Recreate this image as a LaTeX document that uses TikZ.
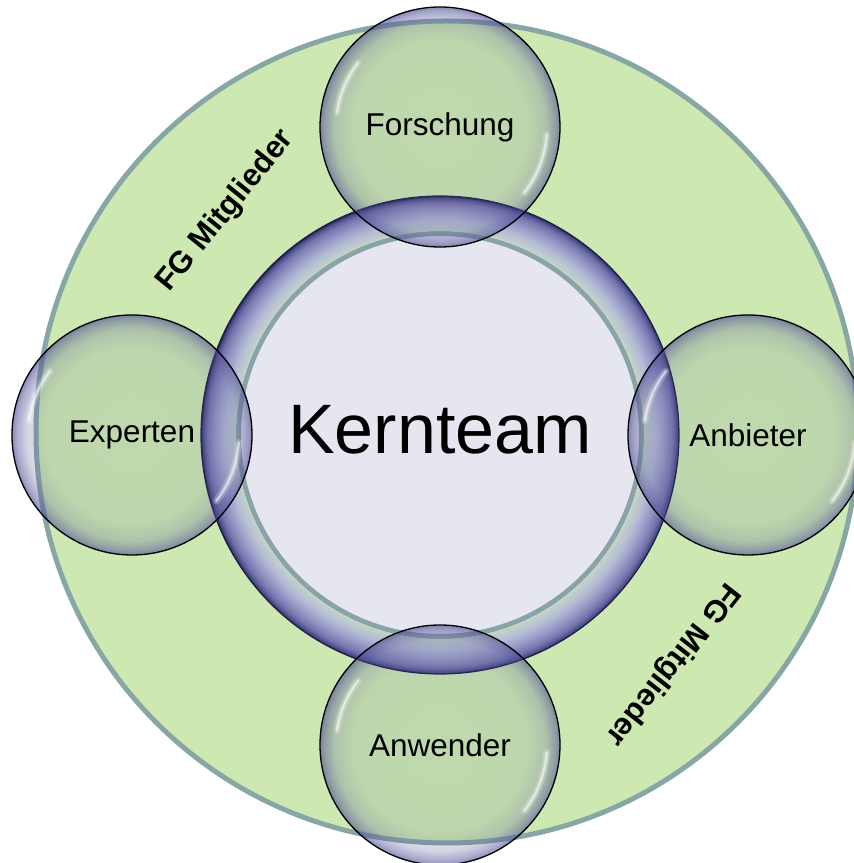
\documentclass[tikz,border=0pt]{standalone}
\usepackage{fontspec}
\setmainfont{Liberation Sans}
\usetikzlibrary{fadings}
\definecolor{bggreen}{HTML}{CDE8B1}
\definecolor{outerline}{HTML}{88A6A6}
\definecolor{coreFill}{HTML}{E6E6F1}
\definecolor{coreLine}{HTML}{8AA3A6}
\definecolor{rimblue}{HTML}{4E4E98}
\definecolor{tint}{HTML}{8080A0}
\definecolor{tA}{HTML}{C4D4C6}
\definecolor{tB}{HTML}{B4BCD6}
\definecolor{tC}{HTML}{9898C6}
\definecolor{tD}{HTML}{7474AE}
\definecolor{tE}{HTML}{4A4A86}
\definecolor{tF}{HTML}{20204A}
\pgfdeclareradialshading{tube}{\pgfpointorigin}{color(0bp)=(tA); color(21.34bp)=(tA); color(22.4bp)=(tB); color(23.4bp)=(tC); color(24.3bp)=(tD); color(24.8bp)=(tE); color(25bp)=(tF); color(50bp)=(tF)}
\pgfdeclareradialshading{rimshade}{\pgfpointorigin}{color(0bp)=(pgftransparent!96); color(18bp)=(pgftransparent!94); color(22bp)=(pgftransparent!80); color(24bp)=(pgftransparent!55); color(25bp)=(pgftransparent!35); color(50bp)=(pgftransparent!35)}
\pgfdeclarefading{rim}{\pgfuseshading{rimshade}}
\tikzset{
  bubble/.style={circle, minimum size=240pt, inner sep=0pt, text=black,
    font=\fontsize{31.5}{38}\selectfont,
    preaction={fill=tint, fill opacity=0.08},
    preaction={fill=rimblue, path fading=rim},
    draw=black, line width=1.3pt},
  hlwide/.style={white, line cap=round, line width=7pt, opacity=0.22},
  hlthin/.style={white, line cap=round, line width=2.5pt, opacity=0.55},
  fglabel/.style={font=\bfseries\fontsize{31}{36}\selectfont, inner sep=0pt},
}
\begin{document}
\begin{tikzpicture}[x=1pt,y=1pt]
\useasboundingbox (0,0) rectangle (854,863);
\clip (0,0) rectangle (854,863);
\fill[white] (0,0) rectangle (854,863);
% outer green circle
\coordinate (oc) at (447,431);
\fill[bggreen] (oc) circle (411pt);
\draw[outerline, line width=5pt] (oc) circle (411pt);
% core
\coordinate (cc) at (440,428);
\fill[coreFill] (cc) circle (204pt);
\draw[coreLine, line width=5pt] (cc) circle (201.5pt);
\shade[shading=tube, even odd rule] (cc) circle (239pt) (cc) circle (204pt);
\draw[tF, line width=1.2pt] (cc) circle (239pt);
\node (kern) at (440,433) {\fontsize{70}{84}\selectfont Kernteam};
% labels
\node[fglabel, rotate=51] (fglabel1) at (226,652) {FG Mitglieder};
\node[fglabel, rotate=-128] (fglabel2) at (672,199) {FG Mitglieder};
% bubbles
\node[bubble] (forschung) at (440,736) {Forschung};
\node[bubble] (experten) at (132,428) {Experten};
\node[bubble] (anbieter) at (748,428) {Anbieter};
\node[bubble] (anwender) at (440,118) {Anwender};
\foreach \b in {forschung,experten,anbieter,anwender}{
  \draw[hlwide] ([shift={(142:104pt)}]\b.center) arc[start angle=142, end angle=172, radius=104pt];
  \draw[hlthin] ([shift={(142:104pt)}]\b.center) arc[start angle=142, end angle=172, radius=104pt];
  \draw[hlwide] ([shift={(-4:107pt)}]\b.center) arc[start angle=-4, end angle=-38, radius=107pt];
  \draw[hlthin] ([shift={(-4:107pt)}]\b.center) arc[start angle=-4, end angle=-38, radius=107pt];
}
\end{tikzpicture}
\end{document}
